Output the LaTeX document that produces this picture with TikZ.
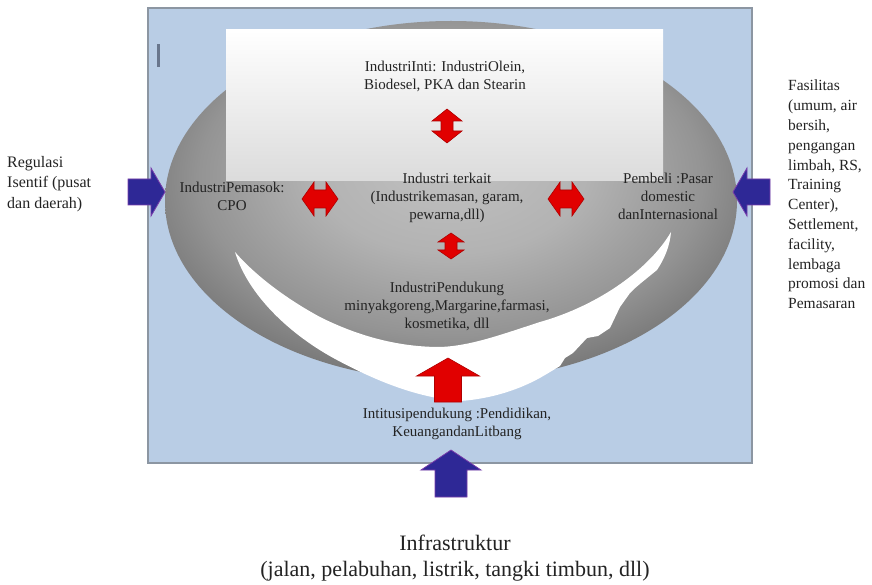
\documentclass[tikz,border=0pt]{standalone}
\usepackage{fontspec}
\setmainfont{Liberation Serif}
\definecolor{panelblue}{RGB}{185,205,229}
\definecolor{paneledge}{RGB}{140,150,162}
\definecolor{arrowblue}{RGB}{46,40,150}
\definecolor{arrowblueedge}{RGB}{120,60,170}
\definecolor{arrowred}{RGB}{225,0,0}
\definecolor{arrowrededge}{RGB}{175,0,0}
\definecolor{cursorgray}{RGB}{105,118,140}
\definecolor{txtgray}{RGB}{35,35,35}
\pgfdeclareradialshading{ellball}{\pgfpoint{0bp}{6bp}}{%
  color(0bp)=(black!24); color(12bp)=(black!30); color(22bp)=(black!42);
  color(28bp)=(black!53); color(33bp)=(black!64); color(37bp)=(black!75);
  color(41bp)=(black!83); color(50bp)=(black!86)}
\tikzset{
  pics/sarrow/.style n args={4}{code={
    \path[pic actions] (-#1/2,-#2/2) -- (#1/2-#4,-#2/2) -- (#1/2-#4,-#3/2) -- (#1/2,0)
      -- (#1/2-#4,#3/2) -- (#1/2-#4,#2/2) -- (-#1/2,#2/2) -- cycle;
  }},
  pics/darrow/.style n args={4}{code={
    \path[pic actions] (-#1/2,0) -- (-#1/2+#4,-#3/2) -- (-#1/2+#4,-#2/2) -- (#1/2-#4,-#2/2)
      -- (#1/2-#4,-#3/2) -- (#1/2,0) -- (#1/2-#4,#3/2) -- (#1/2-#4,#2/2)
      -- (-#1/2+#4,#2/2) -- (-#1/2+#4,#3/2) -- cycle;
  }},
  redarrow/.style={fill=arrowred, draw=arrowrededge, line width=0.6pt},
  bluearrow/.style={fill=arrowblue, draw=arrowblueedge, line width=0.8pt},
  innertext/.style={font=\fontsize{15}{18}\selectfont, align=center, text=txtgray, inner sep=0pt},
  sidetext/.style={font=\fontsize{15.5}{19.8}\selectfont, align=left, text=txtgray, inner sep=0pt, anchor=north west},
  lefttext/.style={font=\fontsize{16}{20.5}\selectfont, align=left, text=txtgray, inner sep=0pt, anchor=north west},
  bottomtext/.style={font=\fontsize{22}{25.5}\selectfont, align=center, text=txtgray, inner sep=0pt},
}
\begin{document}
\begin{tikzpicture}[x=1pt,y=-1pt]
\useasboundingbox (0,0) rectangle (872,585);
\fill[white] (0,0) rectangle (872,585);
% panel
\draw[paneledge, line width=1.2pt, fill=panelblue] (148,8) rectangle (752,463);
\fill[cursorgray] (156.5,44) rectangle (160,67);
% ellipse
\shade[shading=ellball] (451,201) ellipse [x radius=286, y radius=180];
% white box
\shade[top color=white, bottom color=black!14] (226,30) rectangle (663,181);
% wing
\fill[white] (235,252) .. controls (248,295) and (290,335) .. (337,360)
  .. controls (380,383) and (420,398) .. (460,401)
  .. controls (490,399) and (520,390) .. (545,375)
  -- (560,366) -- (565,358) -- (573,353) -- (587,338) -- (598,336) -- (610,328)
  -- (620,307) -- (630,293) -- (634,289) -- (641,283) -- (657,270)
  .. controls (665,258) and (670,245) .. (671,232)
  .. controls (650,268) and (600,305) .. (540,322)
  .. controls (500,335) and (470,346) .. (440,347)
  .. controls (400,347) and (360,337) .. (320,317)
  .. controls (285,298) and (255,275) .. (235,252) -- cycle;
% red arrows
\pic[redarrow, rotate=90] at (447,126) {darrow={34}{12}{30}{12}};
\pic[redarrow] at (320,199) {darrow={36}{18}{34}{12}};
\pic[redarrow] at (566,199) {darrow={36}{18}{34}{12}};
\pic[redarrow, rotate=90] at (451,246) {darrow={26}{12}{26}{9}};
\pic[redarrow, rotate=90] at (448,380) {sarrow={44}{27}{63}{18}};
% blue arrows
\pic[bluearrow] at (146.5,192) {sarrow={37}{26}{48}{14}};
\pic[bluearrow, rotate=180] at (751.5,192) {sarrow={37}{26}{48}{14}};
\pic[bluearrow, rotate=90] at (451,473.5) {sarrow={47}{32}{60}{20}};
% texts
\node[innertext] (inti) at (445,76) {IndustriInti: IndustriOlein,\\Biodesel, PKA dan Stearin};
\node[innertext] (pemasok) at (232,196) {IndustriPemasok:\\CPO};
\node[innertext] (terkait) at (447,198) {Industri terkait\\(Industrikemasan, garam,\\pewarna,dll)};
\node[innertext] (pembeli) at (668,196) {Pembeli :Pasar\\domestic\\danInternasional};
\node[innertext] (pendukung) at (447,306) {IndustriPendukung\\minyakgoreng,Margarine,farmasi,\\kosmetika, dll};
\node[innertext] (intitusi) at (457,424) {Intitusipendukung :Pendidikan,\\KeuangandanLitbang};
\node[lefttext] (regulasi) at (7,156) {Regulasi\\Isentif (pusat\\dan daerah)};
\node[sidetext] (fasilitas) at (788,80) {Fasilitas\\(umum, air\\bersih,\\pengangan\\limbah, RS,\\Training\\Center),\\Settlement,\\facility,\\lembaga\\promosi dan\\Pemasaran};
\node[bottomtext] (infra) at (455,558) {Infrastruktur\\(jalan, pelabuhan, listrik, tangki timbun, dll)};
\end{tikzpicture}
\end{document}
